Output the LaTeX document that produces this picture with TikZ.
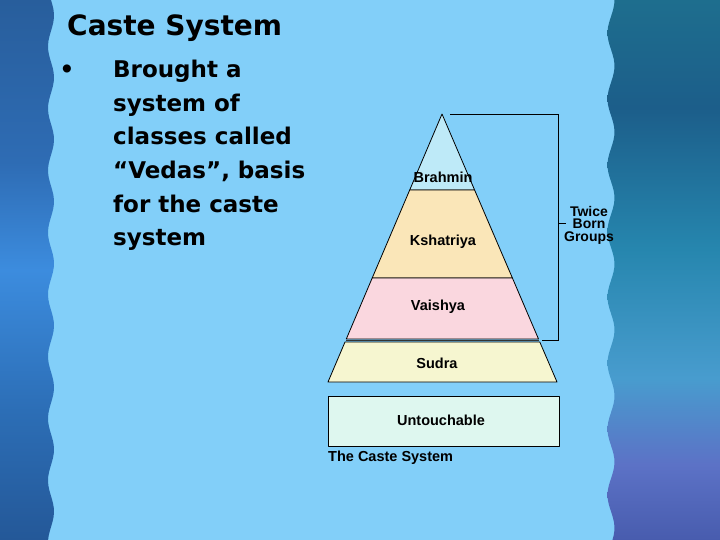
\documentclass[tikz,border=0pt]{standalone}
\usepackage{fontspec}
\setmainfont{DejaVu Sans}
\newfontfamily\diagfont{Liberation Sans}
\definecolor{panel}{HTML}{82CFF9}
\definecolor{brahminc}{HTML}{BEEAF8}
\definecolor{kshatc}{HTML}{FAE6B8}
\definecolor{vaishc}{HTML}{FAD7DF}
\definecolor{sudrac}{HTML}{F6F6D0}
\definecolor{untc}{HTML}{DEF7EF}
\pgfdeclareverticalshading{leftsh}{100bp}{%
  color(0bp)=(rgb,255:red,36;green,88;blue,152);
  color(25bp)=(rgb,255:red,36;green,88;blue,152);
  color(37bp)=(rgb,255:red,44;green,110;blue,182);
  color(50bp)=(rgb,255:red,60;green,140;blue,222);
  color(60bp)=(rgb,255:red,46;green,108;blue,180);
  color(75bp)=(rgb,255:red,40;green,94;blue,156);
  color(100bp)=(rgb,255:red,40;green,94;blue,156)}
\pgfdeclareverticalshading{rightsh}{100bp}{%
  color(0bp)=(rgb,255:red,72;green,92;blue,174);
  color(25bp)=(rgb,255:red,72;green,92;blue,174);
  color(32bp)=(rgb,255:red,92;green,114;blue,198);
  color(40bp)=(rgb,255:red,72;green,156;blue,206);
  color(52bp)=(rgb,255:red,38;green,134;blue,174);
  color(65bp)=(rgb,255:red,28;green,94;blue,138);
  color(75bp)=(rgb,255:red,30;green,110;blue,142);
  color(100bp)=(rgb,255:red,30;green,110;blue,142)}
\tikzset{
  layer/.style={draw=black, line width=0.8pt, line join=round},
  lbl/.style={font=\diagfont\bfseries\fontsize{14.5}{14.5}\selectfont, inner sep=0pt},
  body/.style={font=\bfseries\fontsize{23}{23}\selectfont, anchor=base west, inner sep=0pt},
  bracket/.style={draw=black, line width=0.8pt}
}
\begin{document}
\begin{tikzpicture}[x=1pt,y=-1pt]
\useasboundingbox (0,0) rectangle (720,540);
% background
\fill[panel] (0,0) rectangle (720,540);
\shade[shading=leftsh]
  (0,0) -- plot[domain=0:540, samples=120] ({51+3*sin(\x/62*360)},{\x}) -- (0,540) -- cycle;
\shade[shading=rightsh]
  (720,0) -- plot[domain=0:540, samples=120] ({611+3.5*sin(\x/66*360+90)},{\x}) -- (720,540) -- cycle;
% title and text
\node[font=\bfseries\fontsize{28}{28}\selectfont, anchor=base west, inner sep=0pt] (title) at (67,36) {Caste System};
\node[font=\bfseries\fontsize{23}{23}\selectfont, inner sep=0pt] (bullet) at (67,71) {•};
\node[body] (l1) at (113,78) {Brought a};
\node[body] (l2) at (113,111.5) {system of};
\node[body] (l3) at (113,145) {classes called};
\node[body] (l4) at (113,178.5) {“Vedas”, basis};
\node[body] (l5) at (113,212) {for the caste};
\node[body] (l6) at (113,245.5) {system};
% pyramid
\filldraw[layer, fill=brahminc] (442,114) -- (474.6,190) -- (409.7,190) -- cycle;
\filldraw[layer, fill=kshatc] (409.7,190) -- (474.6,190) -- (512.4,278) -- (372.2,278) -- cycle;
\filldraw[layer, fill=vaishc] (372.2,278) -- (512.4,278) -- (538.5,339) -- (346.3,339) -- cycle;
\filldraw[layer, fill=sudrac] (345.0,342) -- (539.8,342) -- (557,382) -- (328,382) -- cycle;
\draw[line width=1.2pt, black!80] (346,340.5) -- (539,340.5);
\filldraw[layer, fill=untc] (328,396) rectangle (559,446);
\node[lbl] (brahmin) at (443,177) {Brahmin};
\node[lbl] (kshatriya) at (443,242) {Kshatriya};
\node[lbl] (vaishya) at (438,307) {Vaishya};
\node[lbl] (sudra) at (437,363) {Sudra};
\node[lbl] (untouchable) at (441,420) {Untouchable};
\node[lbl, anchor=base west] (caption) at (328,461) {The Caste System};
% bracket
\coordinate (btop) at (450,114);
\coordinate (btr) at (558,114);
\coordinate (bbr) at (558,340);
\coordinate (bend) at (542,340);
\coordinate (tick) at (558,223);
\coordinate (tickend) at (566,223);
\draw[bracket] (btop) -- (btr) -- (bbr) -- (bend);
\draw[bracket] (tick) -- (tickend);
\node[lbl, font=\diagfont\bfseries\fontsize{14}{12.5}\selectfont, align=center] (twice) at (589,225) {Twice\\Born\\Groups};
\end{tikzpicture}
\end{document}
